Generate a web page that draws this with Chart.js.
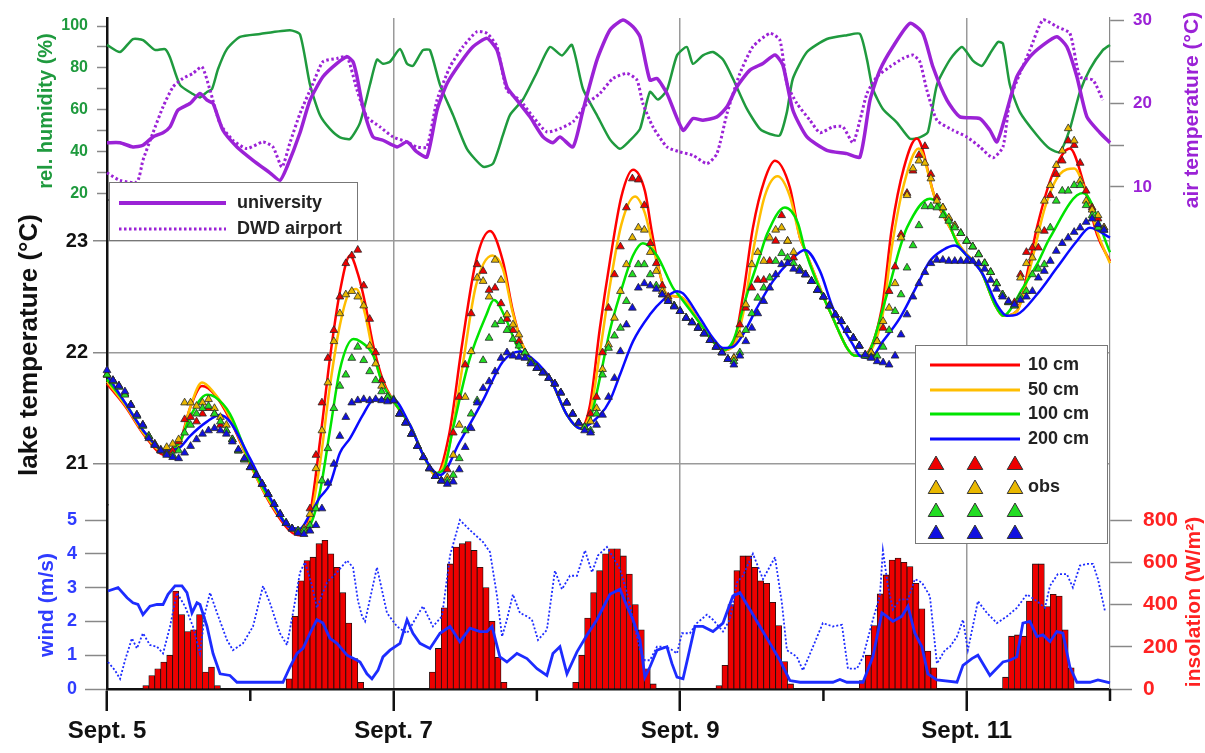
<!DOCTYPE html>
<html><head><meta charset="utf-8">
<script src="https://cdn.jsdelivr.net/npm/chart.js@4/dist/chart.umd.min.js"></script>
<style>html,body{margin:0;padding:0;background:#fff}</style>
</head><body>
<canvas id="c" width="1205" height="753"></canvas>
<script>
// ---------- DATA (time in days since Sept. 5, 00:00) ----------
const dayTicks = [0,1,2,3,4,5,6,7];
const dayLabels = ['Sept. 5','','Sept. 7','','Sept. 9','','Sept. 11',''];
const gridDays = [2,4,6];
const minorDays = [1,3,5,7];

const humTicks = [20,30,40,50,60,70,80,90,100];
const humLabels = [20,40,60,80,100];
const lakeTicks = [21,22,23];
const windTicks = [0,1,2,3,4,5];
const airTicks = [10,15,20,25,30];
const airLabels = [10,20,30];
const insolTicks = [0,200,400,600,800];

const humidity = [[0,91],[0.091,87.6],[0.181,93.8],[0.251,93.3],[0.335,88.6],[0.405,89],[0.44,85],[0.509,72],[0.6,67.6],[0.649,66],[0.698,68.6],[0.733,70],[0.775,79.5],[0.837,89],[0.928,94.8],[1.068,96.2],[1.277,98],[1.347,96],[1.417,72],[1.486,57.6],[1.556,51],[1.626,47],[1.696,46.2],[1.766,54],[1.835,72],[1.884,84],[1.926,82],[1.975,83],[2.045,89],[2.094,82],[2.135,81],[2.205,88.5],[2.254,88.5],[2.324,72],[2.415,57.6],[2.512,41.5],[2.624,33],[2.694,34.5],[2.763,48],[2.812,57.6],[2.903,65],[3.001,78],[3.091,90],[3.175,86],[3.245,91],[3.322,70],[3.419,57.6],[3.51,46],[3.58,41.5],[3.65,45.5],[3.72,51],[3.789,68.6],[3.845,65],[3.908,69.5],[3.978,86],[4.047,90],[4.089,82],[4.159,86],[4.229,87.6],[4.299,84],[4.368,75],[4.466,60.5],[4.557,51],[4.627,48.6],[4.696,48],[4.745,59],[4.787,75],[4.885,87.6],[5.024,93.8],[5.164,95.6],[5.255,96.2],[5.304,84],[5.345,70],[5.415,60.5],[5.513,54],[5.604,46.3],[5.673,47],[5.729,49.5],[5.792,72],[5.883,84],[5.967,90],[6.043,83.5],[6.106,81],[6.162,86.8],[6.218,92.4],[6.253,91.6],[6.301,72],[6.371,59],[6.49,48],[6.581,41.5],[6.65,40],[6.72,51],[6.79,68.6],[6.86,79.5],[6.95,88.5],[7,91]];

const airUniversity = [[0,15.3],[0.091,15.3],[0.181,14.8],[0.251,15],[0.321,16],[0.391,16.5],[0.44,17.2],[0.495,19.2],[0.579,20],[0.649,21.2],[0.698,20.4],[0.74,20],[0.809,16.8],[0.907,14.8],[1.019,13.2],[1.137,11.7],[1.207,10.8],[1.256,12.4],[1.347,16.5],[1.417,20.4],[1.507,23.2],[1.605,24.8],[1.675,25.6],[1.717,25],[1.745,23.2],[1.786,19.6],[1.856,16],[1.926,15.6],[2.024,14.8],[2.094,15.4],[2.163,14.2],[2.233,13.6],[2.303,19.2],[2.373,22.4],[2.463,24.8],[2.554,26.8],[2.652,27.8],[2.722,26.4],[2.791,22],[2.861,20.4],[2.952,18.4],[3.043,16],[3.112,15.3],[3.161,16],[3.252,14.8],[3.322,19.2],[3.419,25.2],[3.51,28.8],[3.601,30],[3.671,29.2],[3.72,28],[3.789,22.8],[3.838,23],[3.908,21.2],[4.02,16.8],[4.089,18.2],[4.159,18],[4.257,18.4],[4.327,19.6],[4.396,22],[4.487,24],[4.578,24.8],[4.662,25.8],[4.717,24.6],[4.787,19.2],[4.885,16],[5.024,14.4],[5.164,14],[5.255,13.6],[5.325,20.4],[5.394,24],[5.485,26.8],[5.604,29.6],[5.694,28.4],[5.764,24.4],[5.862,20.4],[5.953,18.4],[6.092,18.2],[6.162,16.8],[6.211,15.4],[6.281,19.2],[6.35,23.2],[6.441,25.6],[6.532,27],[6.629,28],[6.699,26.8],[6.769,23.2],[6.839,18.4],[6.93,16.5],[7,15.3]];

const airDWD = [[0,11.7],[0.091,10.8],[0.209,10.6],[0.251,13.2],[0.321,16.5],[0.391,19.6],[0.461,22],[0.53,23],[0.6,23.6],[0.663,24.4],[0.719,21.6],[0.789,17.6],[0.879,15.6],[0.977,14.6],[1.089,15.4],[1.158,14.8],[1.221,12.4],[1.277,15.3],[1.347,18.8],[1.438,22.4],[1.507,25],[1.605,25.4],[1.675,25.6],[1.745,21.6],[1.814,18.4],[1.905,17.2],[1.996,16],[2.094,15.4],[2.163,14.8],[2.233,14.8],[2.303,20.4],[2.394,24.4],[2.484,26.8],[2.582,28.6],[2.652,28.4],[2.722,26.8],[2.791,21.6],[2.882,20.4],[2.973,18.4],[3.07,16.6],[3.161,17],[3.252,17.8],[3.35,20],[3.44,21.2],[3.531,23],[3.629,23.6],[3.699,22.8],[3.74,20],[3.81,17.2],[3.908,14.8],[3.999,14.2],[4.089,13.8],[4.187,12.8],[4.257,14],[4.327,18.8],[4.417,23.6],[4.508,26.8],[4.627,28.4],[4.696,27.6],[4.745,22.4],[4.815,20],[4.906,18],[4.976,16.5],[5.066,17.2],[5.136,17.2],[5.206,15.3],[5.255,18],[5.304,21.2],[5.373,23.2],[5.464,24.4],[5.555,25.4],[5.625,25.8],[5.673,25],[5.722,21.6],[5.792,18],[5.904,16.8],[6.001,16],[6.092,14.8],[6.183,13.5],[6.253,14.8],[6.301,20.4],[6.371,23.6],[6.441,26.4],[6.532,30],[6.629,29.2],[6.72,28.4],[6.79,23.2],[6.881,22.8],[6.95,20.4]];

const model10 = [[0,21.72],[0.126,21.52],[0.265,21.25],[0.405,21.08],[0.509,21.2],[0.579,21.5],[0.663,21.7],[0.754,21.62],[0.858,21.4],[0.998,21.0],[1.137,20.65],[1.277,20.4],[1.347,20.36],[1.417,20.55],[1.486,21.2],[1.556,21.95],[1.626,22.55],[1.696,22.87],[1.752,22.7],[1.8,22.45],[1.857,22.07],[1.926,21.75],[1.996,21.57],[2.114,21.35],[2.219,21.05],[2.296,20.9],[2.387,21.26],[2.478,22.07],[2.575,22.82],[2.673,23.09],[2.763,22.82],[2.833,22.37],[2.903,22.06],[3.091,21.77],[3.21,21.44],[3.301,21.32],[3.371,21.53],[3.44,22.22],[3.51,22.82],[3.59,23.4],[3.671,23.64],[3.754,23.45],[3.8,23.1],[3.86,22.7],[3.908,22.52],[3.999,22.5],[4.145,22.25],[4.229,22.1],[4.299,22.02],[4.37,22.07],[4.44,22.52],[4.508,23.12],[4.59,23.55],[4.662,23.72],[4.766,23.48],[4.836,23.03],[4.871,22.92],[5.045,22.37],[5.227,21.97],[5.269,21.97],[5.408,22.4],[5.478,23.12],[5.56,23.65],[5.652,23.92],[5.778,23.39],[5.883,23.12],[5.96,22.94],[6.1,22.73],[6.197,22.43],[6.253,22.33],[6.35,22.37],[6.441,22.82],[6.49,23.12],[6.6,23.6],[6.72,23.83],[6.82,23.5],[6.909,23.06],[7,22.82]];

const model50 = [[0,21.74],[0.126,21.53],[0.265,21.26],[0.405,21.1],[0.509,21.18],[0.579,21.5],[0.663,21.73],[0.74,21.65],[0.858,21.42],[0.998,21.0],[1.137,20.66],[1.277,20.42],[1.347,20.38],[1.417,20.5],[1.486,21.0],[1.556,21.7],[1.626,22.25],[1.696,22.55],[1.74,22.57],[1.8,22.35],[1.857,22.0],[1.926,21.72],[1.996,21.57],[2.114,21.35],[2.219,21.05],[2.296,20.9],[2.387,21.15],[2.478,21.85],[2.575,22.6],[2.69,22.87],[2.763,22.75],[2.833,22.35],[2.903,22.06],[3.091,21.77],[3.21,21.44],[3.301,21.32],[3.371,21.45],[3.44,22.0],[3.51,22.6],[3.59,23.15],[3.685,23.4],[3.754,23.25],[3.81,22.95],[3.86,22.7],[3.908,22.52],[3.999,22.5],[4.145,22.25],[4.229,22.1],[4.299,22.02],[4.37,22.05],[4.44,22.35],[4.508,22.9],[4.59,23.4],[4.68,23.58],[4.766,23.4],[4.836,23.03],[4.871,22.92],[5.045,22.37],[5.227,21.97],[5.269,21.97],[5.408,22.3],[5.478,22.95],[5.56,23.5],[5.665,23.83],[5.778,23.39],[5.883,23.12],[5.96,22.94],[6.1,22.73],[6.197,22.43],[6.253,22.33],[6.35,22.37],[6.441,22.75],[6.546,23.3],[6.65,23.6],[6.75,23.65],[6.84,23.4],[6.92,23.05],[7,22.8]];

const model100 = [[0,21.76],[0.126,21.55],[0.265,21.28],[0.405,21.12],[0.509,21.2],[0.579,21.42],[0.698,21.62],[0.754,21.6],[0.858,21.45],[0.998,21.02],[1.137,20.68],[1.277,20.43],[1.347,20.4],[1.417,20.45],[1.486,20.75],[1.556,21.3],[1.626,21.85],[1.72,22.12],[1.766,22.1],[1.856,21.98],[1.926,21.71],[1.996,21.57],[2.114,21.35],[2.219,21.05],[2.296,20.92],[2.35,20.95],[2.415,21.32],[2.526,21.92],[2.645,22.33],[2.7,22.47],[2.791,22.28],[2.861,22.06],[3.091,21.77],[3.21,21.44],[3.301,21.32],[3.371,21.4],[3.44,21.77],[3.51,22.2],[3.58,22.52],[3.671,22.87],[3.74,22.98],[3.838,22.87],[3.95,22.58],[3.999,22.5],[4.145,22.25],[4.229,22.1],[4.299,22.02],[4.368,22.1],[4.466,22.52],[4.557,22.87],[4.606,23.06],[4.731,23.3],[4.822,23.16],[4.871,22.92],[5.045,22.37],[5.227,21.97],[5.29,21.97],[5.443,22.52],[5.534,22.94],[5.583,23.12],[5.743,23.38],[5.848,23.25],[5.932,22.98],[6.1,22.73],[6.197,22.43],[6.253,22.33],[6.392,22.58],[6.49,22.79],[6.581,23.03],[6.811,23.43],[7,22.9]];

const model200 = [[0,21.8],[0.126,21.55],[0.265,21.28],[0.405,21.12],[0.509,21.15],[0.579,21.25],[0.698,21.38],[0.789,21.44],[0.858,21.38],[0.998,21.05],[1.137,20.7],[1.277,20.43],[1.347,20.42],[1.417,20.55],[1.486,20.7],[1.556,20.82],[1.626,21.1],[1.696,21.23],[1.786,21.44],[1.856,21.57],[1.996,21.58],[2.114,21.35],[2.219,21.05],[2.324,20.9],[2.463,21.2],[2.624,21.57],[2.763,21.92],[2.882,22.01],[2.91,22.0],[3.091,21.77],[3.21,21.44],[3.301,21.32],[3.44,21.44],[3.51,21.57],[3.58,21.8],[3.671,22.1],[3.789,22.34],[3.88,22.47],[3.978,22.55],[4.02,22.53],[4.138,22.31],[4.229,22.13],[4.299,22.04],[4.368,22.05],[4.438,22.16],[4.536,22.4],[4.648,22.64],[4.766,22.82],[4.871,22.92],[4.976,22.73],[5.066,22.4],[5.206,22.07],[5.255,21.97],[5.325,21.95],[5.415,22.1],[5.534,22.31],[5.653,22.6],[5.743,22.82],[5.834,22.92],[5.918,22.96],[6.001,22.87],[6.113,22.7],[6.211,22.43],[6.281,22.33],[6.35,22.34],[6.49,22.52],[6.629,22.76],[6.769,23.0],[6.86,23.12],[7,23.03]];

// hourly observations, hour 0 = Sept. 5 00:00
const obs10 = [
21.80,21.75,21.70,21.63,21.53,21.44,21.35,21.25,21.18,21.12,21.10,21.12,21.20,21.40,21.42,21.38,21.45,21.50,21.45,21.35,21.30,21.22,21.12,21.04,
20.97,20.90,20.82,20.73,20.64,20.55,20.47,20.42,20.40,20.42,20.60,21.08,21.55,21.95,22.20,22.50,22.80,22.87,22.92,22.60,22.30,22.00,21.75,21.60,
21.57,21.45,21.37,21.27,21.16,21.06,20.96,20.89,20.85,20.95,21.28,21.60,21.89,22.35,22.79,22.73,22.56,22.58,22.44,22.30,22.20,22.10,22.00,21.92,
21.86,21.82,21.77,21.72,21.64,21.55,21.45,21.37,21.33,21.45,21.60,22.00,22.40,22.70,22.95,23.30,23.56,23.55,23.32,22.98,22.80,22.60,22.50,22.42,
22.37,22.31,22.27,22.22,22.17,22.11,22.05,22.00,21.94,21.95,22.25,22.40,22.58,22.65,22.65,22.82,23.00,23.23,23.00,22.85,22.75,22.70,22.64,22.56,
22.50,22.42,22.34,22.28,22.20,22.13,22.06,21.98,22.00,22.10,22.22,22.55,22.77,23.06,23.43,23.63,23.77,23.85,23.60,23.39,23.30,23.20,23.14,23.07,
23.00,22.95,22.88,22.80,22.72,22.62,22.52,22.45,22.45,22.70,22.90,22.94,22.94,23.09,23.41,23.60,23.72,23.90,23.86,23.70,23.45,23.30,23.20,23.12];
const obs50 = [
21.80,21.75,21.70,21.63,21.53,21.44,21.35,21.25,21.18,21.13,21.15,21.18,21.22,21.55,21.55,21.52,21.55,21.58,21.50,21.42,21.35,21.22,21.12,21.04,
20.97,20.90,20.82,20.73,20.64,20.55,20.47,20.42,20.40,20.42,20.55,20.96,21.30,21.73,22.10,22.35,22.52,22.55,22.50,22.42,22.06,21.90,21.70,21.60,
21.57,21.45,21.37,21.27,21.16,21.06,20.96,20.89,20.85,20.88,21.08,21.35,21.60,22.01,22.67,22.64,22.50,22.83,22.65,22.34,22.25,22.16,22.00,21.92,
21.86,21.82,21.77,21.72,21.64,21.55,21.45,21.37,21.33,21.38,21.50,21.85,22.07,22.31,22.55,22.79,23.03,23.12,23.10,22.90,22.73,22.55,22.48,22.42,
22.37,22.31,22.27,22.22,22.17,22.11,22.05,22.00,21.94,21.95,22.16,22.43,22.79,22.90,22.82,23.03,23.10,23.12,23.00,22.90,22.75,22.70,22.64,22.56,
22.50,22.42,22.34,22.28,22.20,22.13,22.06,21.97,22.00,22.10,22.28,22.40,22.62,23.03,23.41,23.65,23.72,23.70,23.56,23.36,23.30,23.21,23.14,23.07,
23.00,22.95,22.88,22.80,22.72,22.62,22.52,22.45,22.42,22.67,22.80,22.85,23.10,23.36,23.50,23.68,23.81,24.01,23.90,23.54,23.36,23.28,23.23,23.12];
const obs100 = [
21.80,21.74,21.69,21.62,21.53,21.43,21.34,21.25,21.17,21.12,21.09,21.08,21.12,21.28,21.35,21.45,21.50,21.52,21.45,21.38,21.30,21.22,21.12,21.04,
20.97,20.90,20.82,20.73,20.64,20.55,20.47,20.42,20.40,20.40,20.45,20.60,20.85,21.14,21.50,21.70,21.80,21.95,22.05,21.93,21.83,21.75,21.65,21.60,
21.58,21.45,21.37,21.27,21.16,21.06,20.96,20.89,20.85,20.85,20.90,21.05,21.30,21.45,21.57,21.93,22.13,22.25,22.28,22.20,22.12,22.06,22.00,21.92,
21.86,21.82,21.77,21.72,21.64,21.55,21.45,21.37,21.33,21.30,21.45,21.80,22.04,22.15,22.22,22.46,22.70,22.79,22.79,22.70,22.60,22.52,22.46,22.42,
22.37,22.31,22.27,22.22,22.17,22.11,22.05,22.00,21.94,21.92,22.00,22.20,22.35,22.49,22.58,22.67,22.82,22.89,22.85,22.80,22.75,22.70,22.64,22.56,
22.50,22.42,22.34,22.28,22.20,22.13,22.06,21.97,21.96,21.97,22.05,22.20,22.37,22.52,22.76,22.96,23.14,23.31,23.31,23.30,23.23,23.18,23.12,23.07,
23.00,22.95,22.88,22.80,22.72,22.62,22.52,22.45,22.42,22.50,22.55,22.70,22.75,22.79,23.12,23.36,23.45,23.45,23.50,23.50,23.32,23.23,23.12,23.10];
const obs200 = [
21.84,21.75,21.70,21.65,21.53,21.44,21.35,21.23,21.17,21.12,21.08,21.06,21.05,21.10,21.16,21.22,21.27,21.30,21.32,21.30,21.27,21.20,21.13,21.05,
20.97,20.90,20.82,20.73,20.64,20.55,20.47,20.42,20.38,20.37,20.40,20.45,20.60,20.83,21.00,21.25,21.42,21.55,21.57,21.58,21.57,21.58,21.57,21.56,
21.57,21.45,21.37,21.27,21.16,21.06,20.96,20.89,20.85,20.82,20.84,20.95,21.15,21.32,21.55,21.68,21.74,21.83,21.95,22.00,21.97,21.96,21.95,21.90,
21.86,21.82,21.77,21.72,21.64,21.55,21.45,21.37,21.30,21.28,21.35,21.44,21.60,21.77,22.01,22.25,22.40,22.58,22.62,22.60,22.57,22.52,22.46,22.41,
22.37,22.31,22.27,22.22,22.17,22.11,22.05,22.00,21.94,21.89,21.97,22.10,22.22,22.35,22.46,22.58,22.70,22.79,22.80,22.75,22.73,22.70,22.64,22.56,
22.50,22.42,22.34,22.28,22.20,22.13,22.06,21.98,21.95,21.92,21.91,21.89,21.97,22.16,22.34,22.50,22.62,22.72,22.80,22.83,22.83,22.82,22.82,22.82,
22.82,22.82,22.80,22.75,22.65,22.57,22.50,22.46,22.43,22.47,22.50,22.55,22.67,22.73,22.82,22.91,22.98,23.03,23.08,23.12,23.17,23.20,23.15,23.10];

const windUniversity = [[0.007,2.9],[0.077,3.0],[0.14,2.7],[0.181,2.55],[0.216,2.5],[0.251,2.2],[0.3,2.45],[0.349,2.5],[0.391,2.5],[0.426,2.8],[0.475,3.05],[0.523,3.05],[0.558,2.85],[0.593,2.25],[0.628,2.55],[0.649,2.5],[0.698,1.85],[0.74,1.05],[0.789,0.45],[0.858,0.4],[0.907,0.2],[1.228,0.2],[1.277,0.65],[1.326,1.05],[1.368,1.2],[1.417,1.65],[1.465,2.05],[1.507,1.95],[1.556,1.5],[1.605,1.35],[1.675,1.0],[1.745,0.85],[1.766,0.8],[1.814,0.45],[1.849,0.3],[1.891,0.55],[1.926,0.95],[1.975,1.15],[2.045,1.35],[2.094,2.05],[2.135,1.65],[2.184,1.35],[2.254,1.2],[2.324,1.65],[2.394,1.85],[2.463,1.4],[2.533,1.8],[2.603,1.7],[2.652,1.7],[2.687,1.85],[2.742,0.95],[2.791,0.8],[2.861,1.05],[2.931,0.9],[3.001,0.6],[3.07,0.4],[3.112,1.05],[3.161,1.25],[3.21,0.45],[3.28,1.1],[3.35,1.6],[3.419,2.05],[3.51,2.8],[3.58,2.95],[3.629,2.45],[3.671,2.05],[3.72,1.45],[3.754,0.35],[3.789,0.65],[3.838,1.15],[3.908,1.25],[3.943,0.75],[3.978,0.35],[4.02,0.3],[4.055,0.95],[4.103,1.85],[4.159,1.85],[4.229,1.7],[4.299,1.95],[4.368,2.75],[4.417,2.85],[4.487,2.35],[4.557,1.85],[4.627,1.35],[4.696,0.85],[4.766,0.25],[4.836,0.2],[5.066,0.2],[5.115,0.28],[5.164,0.2],[5.276,0.2],[5.345,0.95],[5.408,2.25],[5.443,2.15],[5.485,2.0],[5.548,2.15],[5.59,2.45],[5.638,1.65],[5.687,1.25],[5.729,0.45],[5.792,0.27],[5.932,0.2],[5.974,0.7],[6.036,0.9],[6.078,1.0],[6.162,0.4],[6.253,0.8],[6.301,0.85],[6.35,0.95],[6.392,1.95],[6.441,2.0],[6.49,1.55],[6.532,1.6],[6.581,1.4],[6.629,1.7],[6.671,1.65],[6.72,0.65],[6.769,0.2],[6.86,0.2],[6.916,0.27],[7,0.18]];

const windAirport = [[0.007,0.8],[0.056,0.55],[0.091,0.3],[0.126,0.85],[0.174,1.5],[0.209,1.2],[0.251,1.65],[0.3,1.3],[0.349,1.25],[0.391,1.05],[0.44,1.85],[0.488,2.85],[0.544,2.45],[0.6,1.85],[0.649,1.05],[0.684,2.25],[0.719,2.85],[0.768,2.25],[0.837,1.45],[0.879,1.15],[0.949,1.35],[1.019,1.85],[1.089,3.05],[1.137,2.55],[1.207,1.65],[1.256,1.3],[1.298,2.25],[1.347,3.45],[1.382,3.75],[1.431,3.05],[1.465,2.4],[1.535,3.15],[1.605,3.45],[1.675,3.8],[1.717,3.6],[1.752,2.6],[1.78,2.15],[1.801,2.0],[1.884,3.6],[1.954,2.25],[2.024,1.85],[2.094,1.65],[2.163,2.15],[2.205,2.45],[2.275,1.85],[2.338,2.15],[2.394,3.95],[2.463,5.0],[2.533,4.7],[2.624,4.35],[2.673,4.05],[2.722,2.75],[2.757,1.55],[2.791,2.05],[2.833,2.8],[2.882,2.25],[2.931,2.15],[2.966,2.05],[3.008,1.45],[3.07,1.75],[3.126,3.5],[3.175,2.95],[3.231,3.35],[3.28,3.35],[3.336,4.1],[3.385,3.45],[3.426,3.95],[3.489,4.2],[3.58,3.55],[3.629,2.85],[3.671,2.05],[3.72,1.15],[3.754,0.85],[3.789,0.85],[3.838,1.25],[3.88,1.25],[3.929,1.2],[3.978,1.05],[4.013,1.65],[4.068,1.65],[4.117,1.95],[4.187,2.2],[4.229,2.05],[4.299,1.7],[4.347,2.05],[4.396,3.15],[4.438,3.35],[4.508,4.0],[4.578,3.25],[4.662,3.9],[4.71,2.55],[4.745,1.15],[4.815,0.95],[4.857,0.55],[4.927,1.25],[4.996,1.95],[5.066,1.85],[5.129,1.9],[5.171,0.6],[5.234,0.6],[5.276,0.95],[5.345,2.05],[5.394,2.75],[5.415,4.1],[5.45,3.05],[5.485,2.35],[5.534,2.65],[5.59,2.65],[5.638,3.25],[5.687,3.15],[5.743,2.75],[5.792,0.75],[5.848,1.15],[5.883,1.25],[5.932,1.55],[5.974,2.05],[6.008,1.15],[6.057,2.15],[6.078,2.6],[6.141,2.25],[6.211,1.95],[6.281,2.15],[6.35,2.4],[6.42,2.8],[6.49,2.6],[6.546,2.4],[6.581,3.05],[6.636,3.4],[6.699,3.4],[6.741,3.0],[6.79,3.65],[6.839,3.7],[6.881,3.7],[6.916,3.25],[6.965,2.3]];

// hourly insolation (W/m2), first value = hour 06-07 of each day
const insolFirstHour = 6;
const insolSep5  = [16,64,96,128,160,464,352,272,280,352,80,104,16];
const insolSep6  = [48,344,512,608,624,688,704,640,576,456,312,144,32];
const insolSep7  = [80,192,384,592,672,688,698,656,576,480,320,150,32];
const insolSep8  = [32,160,336,456,560,640,664,664,630,544,400,280,96,24];
const insolSep9  = [16,112,400,560,630,630,576,512,500,410,300,130,24];
const insolSep10 = [40,160,300,450,540,610,620,600,580,500,380,180,100];
const insolSep11 = [56,250,256,250,416,592,592,390,448,440,280,100];

// ---------- BUILD ----------
const pairs = a => a.map(p => ({x: p[0], y: p[1]}));
const hourly = a => a.map((v, i) => ({x: i / 24, y: v}));
const insolDays = [insolSep5, insolSep6, insolSep7, insolSep8, insolSep9, insolSep10, insolSep11];
const insolPts = [];
insolDays.forEach((arr, d) => arr.forEach((v, k) => insolPts.push({x: d + (insolFirstHour + k + 0.5) / 24, y: v})));

const FONT = "'Liberation Sans', Arial, Helvetica, sans-serif";
const C = {
  hum: '#1f9a3e', purple: '#9b22d6', red: '#ff0000', orange: '#ffbe00', green: '#00e400', blue: '#0a0aff',
  oRed: '#ee0000', oOrange: '#e9b800', oGreen: '#22dd22', oBlue: '#1010e0',
  wind: '#1d2cff', windLab: '#2f3cff', insol: '#ff2222'
};
const tf = size => ({family: FONT, size, weight: 'bold', lineHeight: 0.5});
const lineDs = (label, data, color, axis, order, extra) => Object.assign({
  type: 'line', label, data, yAxisID: axis, borderColor: color, backgroundColor: color,
  borderWidth: 2.5, pointRadius: 0, fill: false, clip: false, order
}, extra || {});
const obsDs = (label, data, color, order) => ({
  type: 'line', label, data, yAxisID: 'yL', showLine: false, pointStyle: 'triangle',
  pointRadius: 4.5, pointBackgroundColor: color, pointBorderColor: '#2a2a2a', pointBorderWidth: 0.8,
  borderColor: color, backgroundColor: color, clip: false, order
});

const overlay = {
  id: 'overlay',
  afterDraw(chart) {
    const ctx = chart.ctx, xs = chart.scales.x, bottom = chart.chartArea.bottom;
    ctx.save();
    ctx.strokeStyle = '#111'; ctx.lineWidth = 2.5;
    minorDays.forEach(d => {
      const px = xs.getPixelForValue(d);
      ctx.beginPath(); ctx.moveTo(px, bottom); ctx.lineTo(px, bottom + 12); ctx.stroke();
    });
    const titles = [
      {t: 'rel. humidity (%)', x: 46, y: 111, c: C.hum, f: 'bold 20px ' + FONT},
      {t: 'lake temperature (°C)', x: 30, y: 345, c: '#111', f: 'bold 26px ' + FONT},
      {t: 'wind (m/s)', x: 47, y: 605, c: C.windLab, f: 'bold 21px ' + FONT},
      {t: 'air temperature (°C)', x: 1192, y: 110, c: C.purple, f: 'bold 21px ' + FONT},
      {t: 'insolation (W/m²)', x: 1194, y: 602, c: C.insol, f: 'bold 21px ' + FONT}
    ];
    titles.forEach(o => {
      ctx.save(); ctx.translate(o.x, o.y); ctx.rotate(-Math.PI / 2);
      ctx.font = o.f; ctx.fillStyle = o.c; ctx.textAlign = 'center'; ctx.textBaseline = 'middle';
      ctx.fillText(o.t, 0, 0); ctx.restore();
    });
    ctx.fillStyle = '#fff'; ctx.strokeStyle = '#777'; ctx.lineWidth = 1;
    ctx.fillRect(109, 182, 248, 58); ctx.strokeRect(109.5, 182.5, 248, 58);
    ctx.strokeStyle = C.purple; ctx.lineWidth = 4;
    ctx.beginPath(); ctx.moveTo(119, 203); ctx.lineTo(226, 203); ctx.stroke();
    ctx.setLineDash([2.5, 2.5]); ctx.lineWidth = 3;
    ctx.beginPath(); ctx.moveTo(119, 229); ctx.lineTo(226, 229); ctx.stroke();
    ctx.setLineDash([]);
    ctx.font = 'bold 18px ' + FONT; ctx.fillStyle = '#222'; ctx.textAlign = 'left'; ctx.textBaseline = 'middle';
    ctx.fillText('university', 237, 203); ctx.fillText('DWD airport', 237, 229);
    ctx.fillStyle = '#fff'; ctx.strokeStyle = '#777'; ctx.lineWidth = 1;
    ctx.fillRect(915, 345, 192, 198); ctx.strokeRect(915.5, 345.5, 192, 198);
    const rows = [[C.red, '10 cm', 365], [C.orange, '50 cm', 390], [C.green, '100 cm', 414], [C.blue, '200 cm', 439]];
    rows.forEach(r => {
      ctx.strokeStyle = r[0]; ctx.lineWidth = 3;
      ctx.beginPath(); ctx.moveTo(930, r[2]); ctx.lineTo(1020, r[2]); ctx.stroke();
      ctx.fillStyle = '#222'; ctx.fillText(r[1], 1028, r[2]);
    });
    const tri = (cx, cy, r, fill) => {
      ctx.beginPath(); ctx.moveTo(cx, cy - r); ctx.lineTo(cx + r * 0.866, cy + r * 0.5); ctx.lineTo(cx - r * 0.866, cy + r * 0.5);
      ctx.closePath(); ctx.fillStyle = fill; ctx.fill(); ctx.strokeStyle = '#333'; ctx.lineWidth = 1; ctx.stroke();
    };
    [[C.oRed, 465], [C.oOrange, 489], [C.oGreen, 512], [C.oBlue, 534]].forEach(r => {
      [936, 975, 1015].forEach(cx => tri(cx, r[1], 9, r[0]));
    });
    ctx.fillStyle = '#222'; ctx.fillText('obs', 1028, 487);
    ctx.restore();
  }
};

new Chart(document.getElementById('c'), {
  type: 'line',
  data: {
    datasets: [
      obsDs('obs 200 cm', hourly(obs200), C.oBlue, 0),
      obsDs('obs 100 cm', hourly(obs100), C.oGreen, 1),
      obsDs('obs 50 cm', hourly(obs50), C.oOrange, 2),
      obsDs('obs 10 cm', hourly(obs10), C.oRed, 3),
      lineDs('200 cm', pairs(model200), C.blue, 'yL', 4, {cubicInterpolationMode: 'monotone'}),
      lineDs('100 cm', pairs(model100), C.green, 'yL', 5, {cubicInterpolationMode: 'monotone'}),
      lineDs('50 cm', pairs(model50), C.orange, 'yL', 6, {cubicInterpolationMode: 'monotone'}),
      lineDs('10 cm', pairs(model10), C.red, 'yL', 7, {cubicInterpolationMode: 'monotone'}),
      lineDs('wind university', pairs(windUniversity), C.wind, 'yW', 8, {borderWidth: 2.8}),
      lineDs('wind airport', pairs(windAirport), C.wind, 'yW', 9, {borderWidth: 1.8, borderDash: [2, 2]}),
      {type: 'bar', label: 'insolation', data: insolPts, yAxisID: 'yI', backgroundColor: '#ee0000',
       borderColor: '#111', borderWidth: 0.8, barPercentage: 1, categoryPercentage: 1, clip: false, order: 10},
      lineDs('university', pairs(airUniversity), C.purple, 'yT', 11, {borderWidth: 3.5, tension: 0.2}),
      lineDs('DWD airport', pairs(airDWD), C.purple, 'yT', 12, {borderWidth: 3, borderDash: [2.5, 2.5], tension: 0.2}),
      lineDs('rel. humidity', pairs(humidity), C.hum, 'yH', 13, {borderWidth: 2.5, tension: 0.2})
    ]
  },
  options: {
    responsive: false, animation: false, devicePixelRatio: 1,
    layout: {padding: {left: 0, right: 0, top: 18, bottom: 0}},
    plugins: {legend: {display: false}, tooltip: {enabled: false}},
    scales: {
      x: {
        type: 'linear', position: 'bottom', min: 0, max: 7, offset: false,
        afterBuildTicks: s => { s.ticks = dayTicks.map(v => ({value: v})); },
        afterFit: s => { s.height = 64; },
        ticks: {autoSkip: false, maxRotation: 0, color: '#111', padding: 8,
          font: {family: FONT, size: 24, weight: 'bold', lineHeight: 1}, callback: v => dayLabels[v]},
        grid: {
          offset: false,
          color: c => (c.tick && gridDays.includes(c.tick.value)) ? '#9a9a9a' : 'rgba(0,0,0,0)',
          lineWidth: 1.5, tickLength: 22, tickWidth: 2.5,
          tickColor: c => (c.tick && c.tick.value % 2 === 0) ? '#111' : 'rgba(0,0,0,0)'
        },
        border: {color: '#111', width: 2.5}
      },
      // left stack is laid out in reverse order: listed bottom -> top
      yW: {
        type: 'linear', position: 'left', stack: 'left', stackWeight: 184, min: 0, max: 5.4438,
        afterBuildTicks: s => { s.ticks = windTicks.map(v => ({value: v})); },
        afterFit: s => { s.width = 107; },
        ticks: {color: C.windLab, font: tf(18), padding: 8, callback: v => String(v)},
        grid: {drawOnChartArea: false, tickLength: 22, tickColor: '#888', tickWidth: 1.5},
        border: {color: '#111', width: 2.5}
      },
      yL: {
        type: 'linear', position: 'left', stack: 'left', stackWeight: 305, min: 20.632, max: 23.368,
        afterBuildTicks: s => { s.ticks = lakeTicks.map(v => ({value: v})); },
        afterFit: s => { s.width = 107; },
        ticks: {color: '#111', font: tf(20), padding: 5, callback: v => String(v)},
        grid: {color: '#9a9a9a', lineWidth: 1.5, tickLength: 14, tickColor: '#888', tickWidth: 1.5},
        border: {color: '#111', width: 2.5}
      },
      yH: {
        type: 'linear', position: 'left', stack: 'left', stackWeight: 182, min: 17.14, max: 103.81,
        afterBuildTicks: s => { s.ticks = humTicks.map(v => ({value: v})); },
        afterFit: s => { s.width = 107; },
        ticks: {color: C.hum, font: tf(16), padding: 9, callback: v => humLabels.includes(v) ? String(v) : ''},
        grid: {drawOnChartArea: false, tickLength: 10, tickColor: '#888', tickWidth: 1.5},
        border: {color: '#111', width: 2.5}
      },
      yT: {
        type: 'linear', position: 'right', stack: 'right', stackWeight: 182, min: 8.443, max: 30.24,
        afterBuildTicks: s => { s.ticks = airTicks.map(v => ({value: v})); },
        afterFit: s => { s.width = 95; },
        ticks: {color: C.purple, font: tf(17), padding: 9, callback: v => airLabels.includes(v) ? String(v) : ''},
        grid: {drawOnChartArea: false, tickLength: 14, tickColor: '#888', tickWidth: 1.5},
        border: {color: '#8a8a8a', width: 1.2}
      },
      yI: {
        type: 'linear', position: 'right', stack: 'right', stackWeight: 489, min: 0, max: 2314.8,
        afterBuildTicks: s => { s.ticks = insolTicks.map(v => ({value: v})); },
        afterFit: s => { s.width = 95; },
        ticks: {color: C.insol, font: tf(21), padding: 11, callback: v => String(v)},
        grid: {drawOnChartArea: false, tickLength: 22, tickColor: '#888', tickWidth: 1.5},
        border: {color: '#8a8a8a', width: 1.2}
      }
    }
  },
  plugins: [overlay]
});
</script>
</body></html>
